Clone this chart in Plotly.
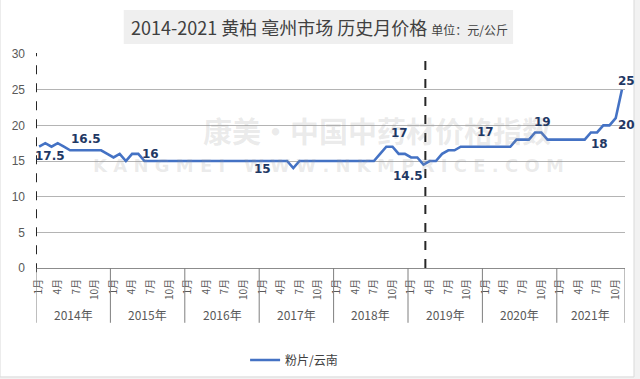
import plotly.graph_objects as go

# ---------------- data ----------------
years = ["2014年", "2015年", "2016年", "2017年", "2018年", "2019年", "2020年", "2021年"]
months_per_year = [12, 12, 12, 12, 12, 12, 12, 11]
month_tick_text = ["1月", "4月", "7月", "10月"]

p2014 = [17, 17.5, 17, 17.5, 17, 16.5, 16.5, 16.5, 16.5, 16.5, 16.5, 16]
p2015 = [15.5, 16, 15, 16, 16, 15, 15, 15, 15, 15, 15, 15]
p2016 = [15, 15, 15, 15, 15, 15, 15, 15, 15, 15, 15, 15]
p2017 = [15, 15, 15, 15, 15, 14, 15, 15, 15, 15, 15, 15]
p2018 = [15, 15, 15, 15, 15, 15, 15, 16, 17, 17, 16, 16]
p2019 = [15.5, 15.5, 14.5, 15, 15, 16, 16.5, 16.5, 17, 17, 17, 17]
p2020 = [17, 17, 17, 17, 17, 18, 18, 18, 19, 19, 18, 18]
p2021 = [18, 18, 18, 18, 18, 19, 19, 20, 20, 21, 25]
series_name = "粉片/云南"

# data labels shown on the chart (month index, text)
label_months = [1, 7, 18, 36, 57, 62, 72, 81, 90, 92, 94]
label_texts = ["17.5", "16.5", "16", "15", "17", "14.5", "17", "19", "18", "20", "25"]

title_main = "2014-2021 黄柏 亳州市场 历史月价格"
title_unit = "单位：元/公斤"
watermark_main = "康美·中国中药材价格指数"
watermark_sub = "K A N G M E I &nbsp; W W W . N K M P R I C E . C O M"

# ---------------- build ----------------
prices = p2014 + p2015 + p2016 + p2017 + p2018 + p2019 + p2020 + p2021
x_idx = list(range(len(prices)))

tickvals, ticktext = [], []
year_starts = []
start = 0
for n in months_per_year:
    year_starts.append(start)
    for k, t in zip([0, 3, 6, 9], month_tick_text):
        if k < n:
            tickvals.append(start + k)
            ticktext.append(t)
    start += n
total = start

CJK = "Noto Sans CJK SC, Noto Sans, sans-serif"
fig = go.Figure()
fig.add_trace(go.Scatter(
    x=x_idx, y=prices, mode="lines", name=series_name,
    line=dict(color="#4472C4", width=2.6),
))

# label offsets (pixels) – styling
label_shift = {
    1: (5, -13), 7: (3, 11), 18: (0, 7), 36: (0, -8), 57: (7, 14),
    62: (-16, -11), 72: (0, 15), 81: (1, 10), 90: (2, -12), 92: (17, 0), 94: (5, 9),
}
annotations = []

# watermark (drawn first so it sits beneath the labels)
annotations.append(dict(
    x=0.579, y=0.645, xref="paper", yref="paper", text="<b>%s</b>" % watermark_main, showarrow=False,
    font=dict(family=CJK, size=29, color="rgba(150,150,150,0.2)"),
))
annotations.append(dict(
    x=0.496, y=0.477, xref="paper", yref="paper", text="<b>%s</b>" % watermark_sub,
    showarrow=False, font=dict(family="DejaVu Sans, sans-serif", size=18, color="rgba(150,150,150,0.2)"),
))

for m, t in zip(label_months, label_texts):
    dx, dy = label_shift[m]
    annotations.append(dict(
        x=m, y=prices[m], xref="x", yref="y", text="<b>%s</b>" % t, showarrow=False,
        xshift=dx, yshift=dy, font=dict(family="DejaVu Sans, Verdana, sans-serif", size=12, color="#1F3864"),
    ))

# year labels
for ys, n, yl in zip(year_starts, months_per_year, years):
    annotations.append(dict(
        x=ys + (n - 1) / 2, y=-0.215, xref="x", yref="paper", text=yl, showarrow=False,
        font=dict(family=CJK, size=12, color="#595959"), yanchor="middle",
    ))

# title
annotations.append(dict(
    x=0.482, y=1.125, xref="paper", yref="paper", showarrow=False,
    text=title_main + " <span style='font-size:12px'>" + title_unit + "</span>",
    font=dict(family=CJK, size=18, color="#404040"), xanchor="center", yanchor="middle",
))

shapes = [
    # outer frame (white card on light grey)
    dict(type="rect", xref="paper", yref="paper", x0=-0.0611, x1=1.0153, y0=-0.509, y1=1.26,
         line=dict(color="#d9d9d9", width=1), fillcolor="white", layer="below"),
    # title background
    dict(type="rect", xref="paper", yref="paper", x0=0.149, x1=0.81, y0=1.047, y1=1.206,
         line=dict(width=0), fillcolor="#efefef", layer="below"),
    # left dashed axis
    dict(type="line", xref="x", yref="paper", x0=-0.5, x1=-0.5, y0=-0.02, y1=1.005,
         line=dict(color="#262626", width=2, dash="dash")),
    # 2019 dashed marker
    dict(type="line", xref="x", yref="paper", x0=62.3, x1=62.3, y0=0, y1=1.005,
         line=dict(color="#262626", width=2, dash="dash")),
]
for b in year_starts + [total]:
    shapes.append(dict(type="line", xref="x", yref="paper", x0=b - 0.5, x1=b - 0.5, y0=0, y1=-0.256,
                       line=dict(color="#7f7f7f", width=1)))

fig.update_layout(
    width=640, height=379,
    margin=dict(l=36, r=15, t=54, b=111, autoexpand=False),
    paper_bgcolor="#f2f2f2", plot_bgcolor="rgba(0,0,0,0)",
    showlegend=True,
    legend=dict(orientation="h", x=0.355, y=-0.43, xanchor="left", yanchor="middle",
                font=dict(family=CJK, size=12, color="#404040"), bgcolor="rgba(0,0,0,0)",
                itemwidth=30),
    annotations=annotations, shapes=shapes,
    xaxis=dict(range=[-0.5, total - 0.5], tickvals=tickvals, ticktext=ticktext, tickangle=-90,
               showgrid=False, zeroline=False, showline=True, linecolor="#8c8c8c", linewidth=1,
               ticks="", ticklabelstandoff=6, automargin=False,
               tickfont=dict(family=CJK, size=10, color="#595959")),
    yaxis=dict(range=[0, 30], dtick=5, showgrid=True, gridcolor="#b4b4b4", gridwidth=1,
               zeroline=False, showline=False, ticks="", ticklabelstandoff=10, automargin=False,
               tickfont=dict(family="Liberation Sans, Arial, sans-serif", size=12, color="#595959")),
)

fig.write_html("out.html")
